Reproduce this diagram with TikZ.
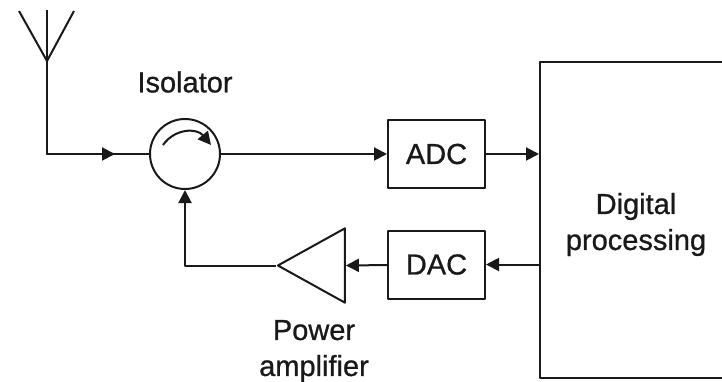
\documentclass[tikz,border=0pt]{standalone}
\usepackage{fontspec}
\setmainfont{Liberation Sans}
\newfontfamily\labelfont[FakeBold=0.8]{Liberation Sans}
\usetikzlibrary{arrows.meta,shapes.geometric}
\tikzset{
    >={Triangle[length=13pt,width=13pt]},
    every node/.style={font=\labelfont\fontsize{29}{36}\selectfont},
    blockbox/.style={draw, rectangle, minimum width=97pt, minimum height=68pt, inner sep=0pt},
}
\begin{document}
\begin{tikzpicture}[x=1pt, y=-1pt, line width=2pt, line join=round, color=black!90]
        \useasboundingbox (0,0) rectangle (722,382);

        \node (iso) [draw, circle, minimum size=70pt, inner sep=0pt] at (185,154) {};
        \node (isolabel) [above of=iso, node distance=72pt] {Isolator};
        \node (adc) [blockbox, right of=iso, node distance=251.5pt] {ADC};
        \node (dac) [blockbox, below of=adc, node distance=110.5pt] {DAC};
        \node (digital) [draw, rectangle, minimum width=192pt, minimum height=316pt, align=center] at (636,220) {\rule{0pt}{30pt}Digital\\processing};
        \node (amp) [draw, isosceles triangle, isosceles triangle apex angle=58, shape border rotate=180, minimum height=67pt, inner sep=0pt] at (323,265.5) {};
        \node (amplabel) [align=center, inner sep=0pt] at (314,351) {Power\\amplifier};

        \coordinate (ant) at (47,61);
        \coordinate (antl) at (19,11);
        \coordinate (antm) at (47,10);
        \coordinate (antr) at (74,11);
        \coordinate (feed) at (115,154);
        \coordinate (turnstart) at (163,145);
        \coordinate (turnend) at (211,145);

        \draw (antl) -- (ant) -- (antr);
        \draw (antm) -- (ant);
        \draw (ant) |- (iso.west);
        \draw[->] (ant) |- (feed);
        \draw[->] (turnstart) .. controls (175,128) and (197,128) .. (turnend);
        \draw[->] (iso) -- (adc);
        \draw[->] (adc) -- (adc -| digital.west);
        \draw[->] (dac -| digital.west) -- (dac);
        \draw[->] (dac) -- (amp.east);
        \draw[->] (amp.apex) -| (iso.south);
    \end{tikzpicture}
\end{document}
